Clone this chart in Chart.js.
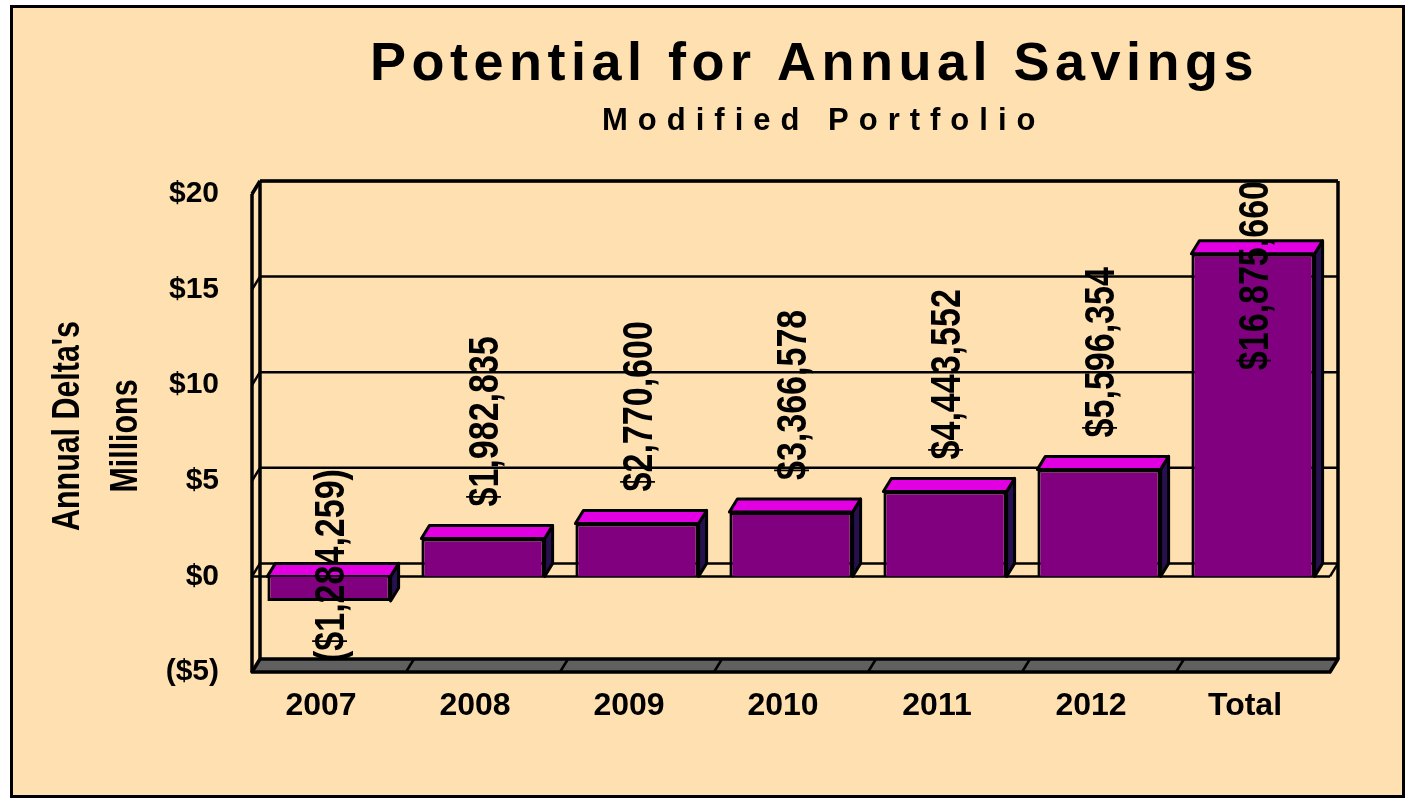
<!DOCTYPE html>
<html>
<head>
<meta charset="utf-8">
<title>Potential for Annual Savings</title>
<script src="https://cdn.jsdelivr.net/npm/chart.js@4.4.1/dist/chart.umd.min.js"></script>
<style>
  html, body { margin: 0; padding: 0; background: #fff; }
  #frame { position: absolute; left: 10px; top: 5px; width: 1389px; height: 787px; border: 3px solid #000; background: #FFE0B0; }
  #chart { position: absolute; left: 0; top: 0; }
</style>
</head>
<body>
<div id="frame"></div>
<canvas id="chart" width="1407" height="803"></canvas>
<script>
'use strict';

var categories = ['2007', '2008', '2009', '2010', '2011', '2012', 'Total'];
// annual deltas, dollars
var savings = [-1284259, 1982835, 2770600, 3366578, 4443552, 5596354, 16875660];
var yTicks = [-5, 0, 5, 10, 15, 20];
var titleText = 'Potential for Annual Savings';
var subtitleText = 'Modified Portfolio';
var axisTitle = ["Annual Delta's", 'Millions'];

var FONT = '"Liberation Sans", Arial, sans-serif';
var DX = 8, DY = -13;       // depth of the 3d box
var SQ = 0.81;              // narrow look of the value labels

function money(v) {
    var s = '$' + Math.abs(v).toLocaleString('en-US');
    return v < 0 ? '(' + s + ')' : s;
}

function line(ctx, x1, y1, x2, y2) {
    ctx.beginPath();
    ctx.moveTo(x1, y1);
    ctx.lineTo(x2, y2);
    ctx.stroke();
}

function quad(ctx, pts, fill) {
    ctx.beginPath();
    ctx.moveTo(pts[0][0], pts[0][1]);
    for (var i = 1; i < pts.length; i++) ctx.lineTo(pts[i][0], pts[i][1]);
    ctx.closePath();
    if (fill) { ctx.fillStyle = fill; ctx.fill(); }
    ctx.stroke();
}

// walls, floor and the side/top faces of the bars
var box3d = {
    id: 'box3d',
    beforeDatasetsDraw: function (chart) {
        var ctx = chart.ctx, ca = chart.chartArea;
        var ys = chart.scales.y, xs = chart.scales.x;
        var yMin = yTicks[0], yMax = yTicks[yTicks.length - 1];
        var yb = ys.getPixelForValue(yMin), yt = ys.getPixelForValue(yMax);
        var y0 = ys.getPixelForValue(0);
        ctx.save();
        ctx.strokeStyle = '#000';
        ctx.lineJoin = 'round';

        // back wall grid
        ctx.lineWidth = 2.5;
        yTicks.forEach(function (v) {
            if (v === yMin) return;
            var y = ys.getPixelForValue(v);
            line(ctx, ca.left + DX, y + DY, ca.right + DX, y + DY);
            line(ctx, ca.left, y, ca.left + DX, y + DY);
        });
        ctx.lineWidth = 3.5;
        line(ctx, ca.left + DX, yt + DY, ca.right + DX, yt + DY);
        line(ctx, ca.right + DX, yt + DY, ca.right + DX, yb + DY);
        line(ctx, ca.left + DX, yt + DY, ca.left + DX, yb + DY);
        line(ctx, ca.left, yt, ca.left, yb);
        line(ctx, ca.left, yt, ca.left + DX, yt + DY);

        // zero plane edge
        ctx.lineWidth = 2.5;
        line(ctx, ca.left, y0, ca.right, y0);
        line(ctx, ca.right, y0, ca.right + DX, y0 + DY);

        // floor
        ctx.lineWidth = 3.5;
        quad(ctx, [[ca.left, yb], [ca.right, yb], [ca.right + DX, yb + DY], [ca.left + DX, yb + DY]], '#606060');
        ctx.lineWidth = 2.5;
        for (var i = 1; i < categories.length; i++) {
            var xb = (xs.getPixelForValue(i) + xs.getPixelForValue(i - 1)) / 2;
            line(ctx, xb, yb, xb + DX, yb + DY);
        }

        // bar top and side faces
        ctx.lineWidth = 3;
        chart.getDatasetMeta(0).data.forEach(function (el) {
            var l = el.x - el.width / 2, r = el.x + el.width / 2;
            var top = Math.min(el.y, el.base), bot = Math.max(el.y, el.base);
            quad(ctx, [[r, top], [r + DX, top + DY], [r + DX, bot + DY], [r, bot]], '#26104E');
            quad(ctx, [[l, top], [l + DX, top + DY], [r + DX, top + DY], [r, top]], '#E200E2');
        });
        ctx.restore();
    },
    afterDatasetsDraw: function (chart) {
        var ctx = chart.ctx, ca = chart.chartArea;
        var yb = chart.scales.y.getPixelForValue(yTicks[0]);
        ctx.save();
        ctx.fillStyle = '#000';
        ctx.font = 'bold 42px ' + FONT;
        ctx.textAlign = 'left';
        ctx.textBaseline = 'alphabetic';
        chart.getDatasetMeta(0).data.forEach(function (el, i) {
            var txt = money(savings[i]);
            var len = ctx.measureText(txt).width * SQ;
            var top = Math.min(el.y, el.base), bot = Math.max(el.y, el.base);
            var start;
            if (savings[i] >= 0) {
                start = top - 32;
                if (start - len < ca.top + DY) start = ca.top + DY + len;
            } else {
                start = Math.min(bot + 20 + len, yb - 10);
            }
            ctx.save();
            ctx.translate(el.x + 15, start);
            ctx.rotate(-Math.PI / 2);
            ctx.scale(SQ, 1);
            ctx.fillText(txt, 0, 0);
            ctx.restore();
        });
        ctx.restore();
    },
    afterDraw: function (chart) {
        var ctx = chart.ctx;
        ctx.save();
        ctx.fillStyle = '#000';
        ctx.textAlign = 'left';
        ctx.textBaseline = 'alphabetic';

        ctx.font = 'bold 54px ' + FONT;
        ctx.letterSpacing = '5.5px';
        ctx.fillText(titleText, 370, 80);

        ctx.font = 'bold 31px ' + FONT;
        ctx.letterSpacing = '10px';
        ctx.fillText(subtitleText, 602, 130);

        ctx.letterSpacing = '0px';
        ctx.font = 'bold 38px ' + FONT;
        ctx.textAlign = 'center';
        [[79, 426], [137, 436]].forEach(function (p, i) {
            ctx.save();
            ctx.translate(p[0], p[1]);
            ctx.rotate(-Math.PI / 2);
            ctx.scale(0.8, 1);
            ctx.fillText(axisTitle[i], 0, 0);
            ctx.restore();
        });
        ctx.restore();
    }
};

var chartCanvas = document.getElementById('chart').getContext('2d');

new Chart(chartCanvas, {
    type: 'bar',
    data: {
        labels: categories,
        datasets: [{
            data: savings.map(function (v) { return v / 1e6; }),
            backgroundColor: '#800080',
            borderColor: '#000',
            borderWidth: 3,
            barPercentage: 0.8,
            categoryPercentage: 1
        }]
    },
    options: {
        responsive: false,
        animation: false,
        events: [],
        layout: { padding: { left: 0, top: 194, right: 77, bottom: 0 } },
        plugins: {
            legend: { display: false },
            tooltip: { enabled: false },
            title: { display: false }
        },
        scales: {
            x: {
                grid: { display: false, drawTicks: false },
                border: { display: false },
                ticks: {
                    color: '#000',
                    padding: 15,
                    labelOffset: -8,
                    font: { family: FONT, size: 32, weight: 'bold' }
                },
                afterFit: function (scale) { scale.height = 131; }
            },
            y: {
                min: yTicks[0],
                max: yTicks[yTicks.length - 1],
                grid: { display: false, drawTicks: false },
                border: { display: false },
                ticks: {
                    stepSize: 5,
                    color: '#000',
                    padding: 33,
                    font: { family: FONT, size: 30, weight: 'bold' },
                    callback: function (v) { return v < 0 ? '($' + (-v) + ')' : '$' + v; }
                },
                afterFit: function (scale) { scale.width = 252; }
            }
        }
    },
    plugins: [box3d]
});
</script>
</body>
</html>
